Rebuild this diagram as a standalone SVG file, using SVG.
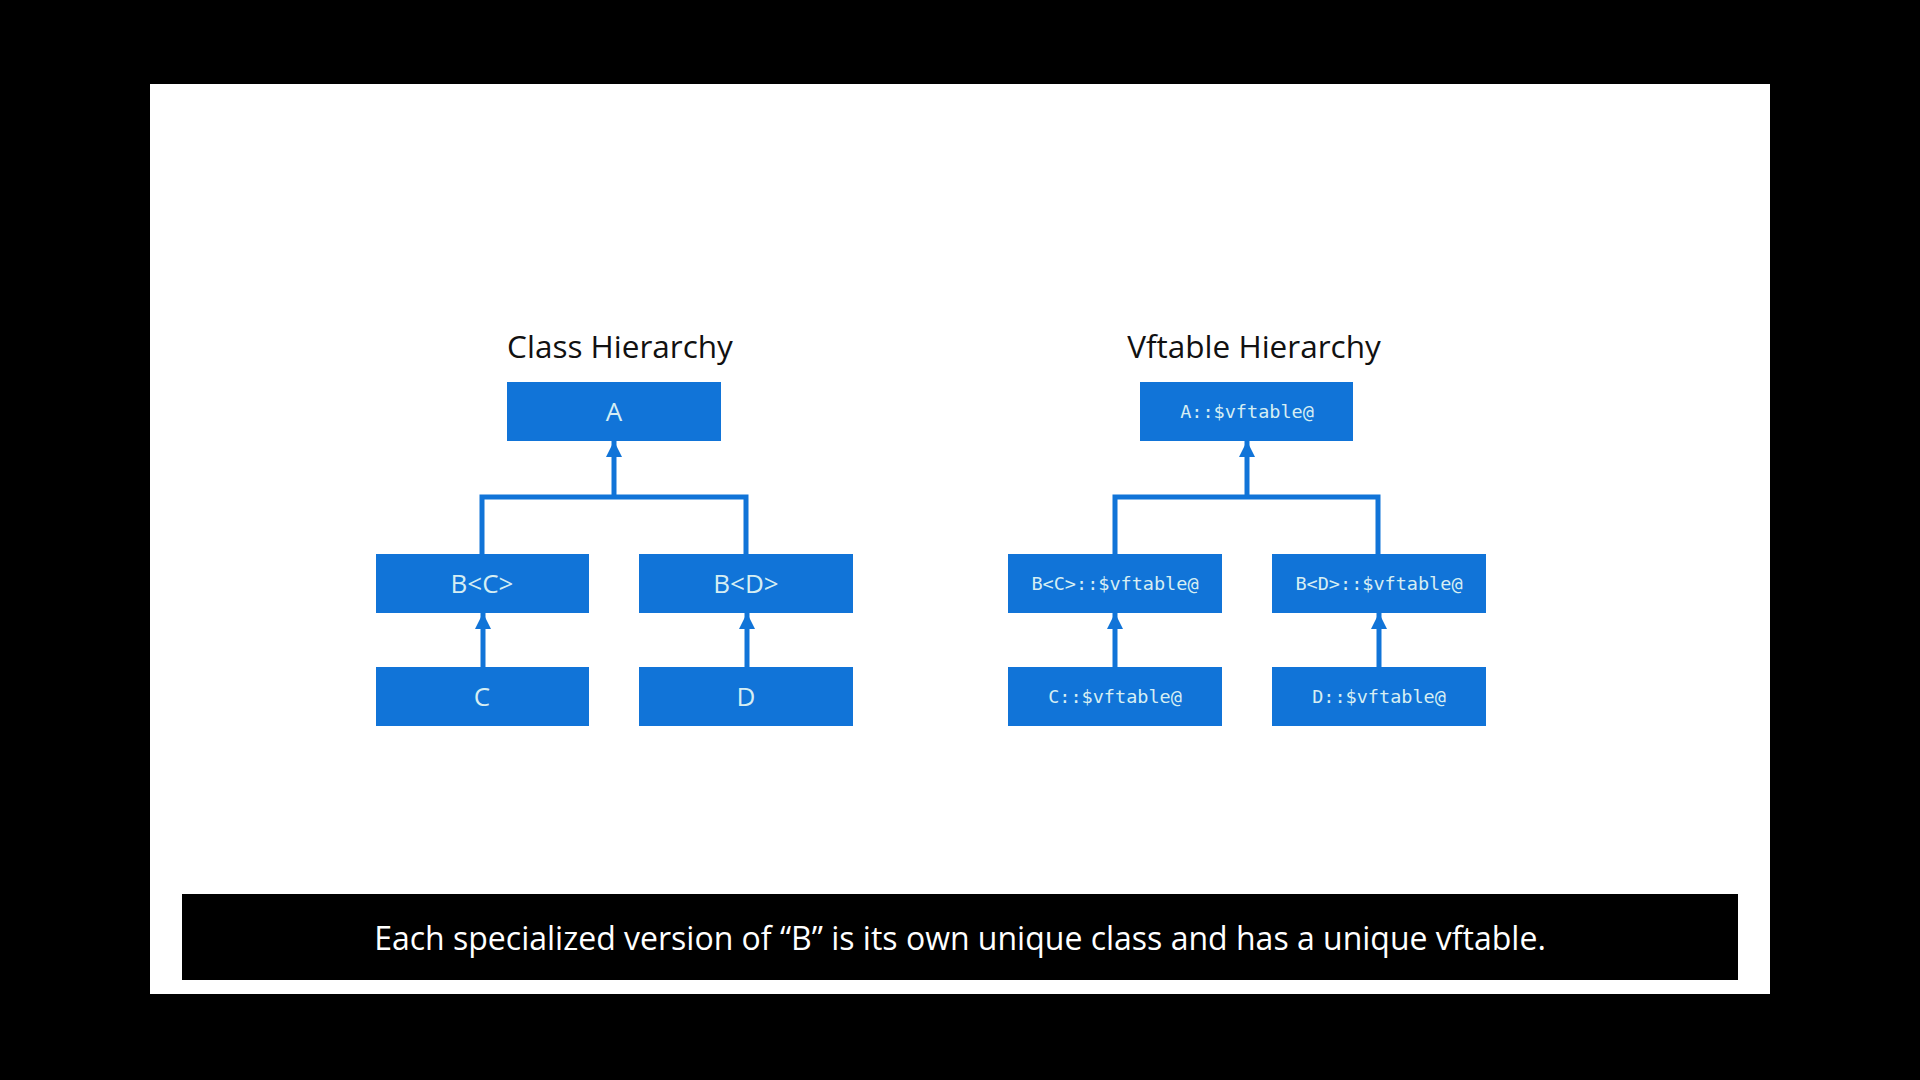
<svg xmlns="http://www.w3.org/2000/svg" width="1920" height="1080" viewBox="0 0 1920 1080">
<defs>
<style>
.bg{fill:#000}
.slide{fill:#fff}
.node rect{fill:#1174d8}
.lbl{font-family:"Open Sans","Liberation Sans",sans-serif;font-size:26px;fill:#d6eef3;text-anchor:middle}
.mono{font-family:"DejaVu Sans Mono","Liberation Mono",monospace;font-size:18.5px;fill:#d6eef3;text-anchor:middle}
.title{font-family:"Open Sans","Liberation Sans",sans-serif;font-size:31.5px;fill:#111;text-anchor:middle}
.conn{fill:none;stroke:#1174d8;stroke-width:5;stroke-linejoin:miter}
.cap{font-family:"Open Sans","Liberation Sans",sans-serif;font-size:32px;fill:#fff;text-anchor:middle}
</style>
<marker id="ah" viewBox="0 0 16 16" refX="16" refY="8" markerWidth="16" markerHeight="16" markerUnits="userSpaceOnUse" orient="auto">
<path d="M0,0 L16,8 L0,16 Z" fill="#1174d8"/>
</marker>
</defs>
<rect class="bg" x="0" y="0" width="1920" height="1080"/>
<rect class="slide" x="150" y="84" width="1620" height="910"/>

<text class="title" x="620" y="358">Class Hierarchy</text>
<text class="title" x="1254" y="358">Vftable Hierarchy</text>

<g id="connectors">
<path class="conn" d="M482,554 V497 H746 V554"/>
<path class="conn" d="M614,497 V441" marker-end="url(#ah)"/>
<path class="conn" d="M483,667 V613" marker-end="url(#ah)"/>
<path class="conn" d="M747,667 V613" marker-end="url(#ah)"/>
<path class="conn" d="M1115,554 V497 H1378 V554"/>
<path class="conn" d="M1247,497 V441" marker-end="url(#ah)"/>
<path class="conn" d="M1115,667 V613" marker-end="url(#ah)"/>
<path class="conn" d="M1379,667 V613" marker-end="url(#ah)"/>
</g>

<g id="node-A" class="node"><rect x="507" y="382" width="214" height="59"/><text class="lbl" x="614" y="421">A</text></g>
<g id="node-BC" class="node"><rect x="376" y="554" width="213" height="59"/><text class="lbl" x="482" y="593">B&lt;C&gt;</text></g>
<g id="node-BD" class="node"><rect x="639" y="554" width="214" height="59"/><text class="lbl" x="746" y="593">B&lt;D&gt;</text></g>
<g id="node-C" class="node"><rect x="376" y="667" width="213" height="59"/><text class="lbl" x="482" y="706">C</text></g>
<g id="node-D" class="node"><rect x="639" y="667" width="214" height="59"/><text class="lbl" x="746" y="706">D</text></g>

<g id="node-Av" class="node"><rect x="1140" y="382" width="213" height="59"/><text class="mono" x="1247" y="418">A::$vftable@</text></g>
<g id="node-BCv" class="node"><rect x="1008" y="554" width="214" height="59"/><text class="mono" x="1115" y="590">B&lt;C&gt;::$vftable@</text></g>
<g id="node-BDv" class="node"><rect x="1272" y="554" width="214" height="59"/><text class="mono" x="1379" y="590">B&lt;D&gt;::$vftable@</text></g>
<g id="node-Cv" class="node"><rect x="1008" y="667" width="214" height="59"/><text class="mono" x="1115" y="703">C::$vftable@</text></g>
<g id="node-Dv" class="node"><rect x="1272" y="667" width="214" height="59"/><text class="mono" x="1379" y="703">D::$vftable@</text></g>

<g id="caption">
<rect x="182" y="894" width="1556" height="86" fill="#000"/>
<text class="cap" x="960" y="950">Each specialized version of “B” is its own unique class and has a unique vftable.</text>
</g>
</svg>
